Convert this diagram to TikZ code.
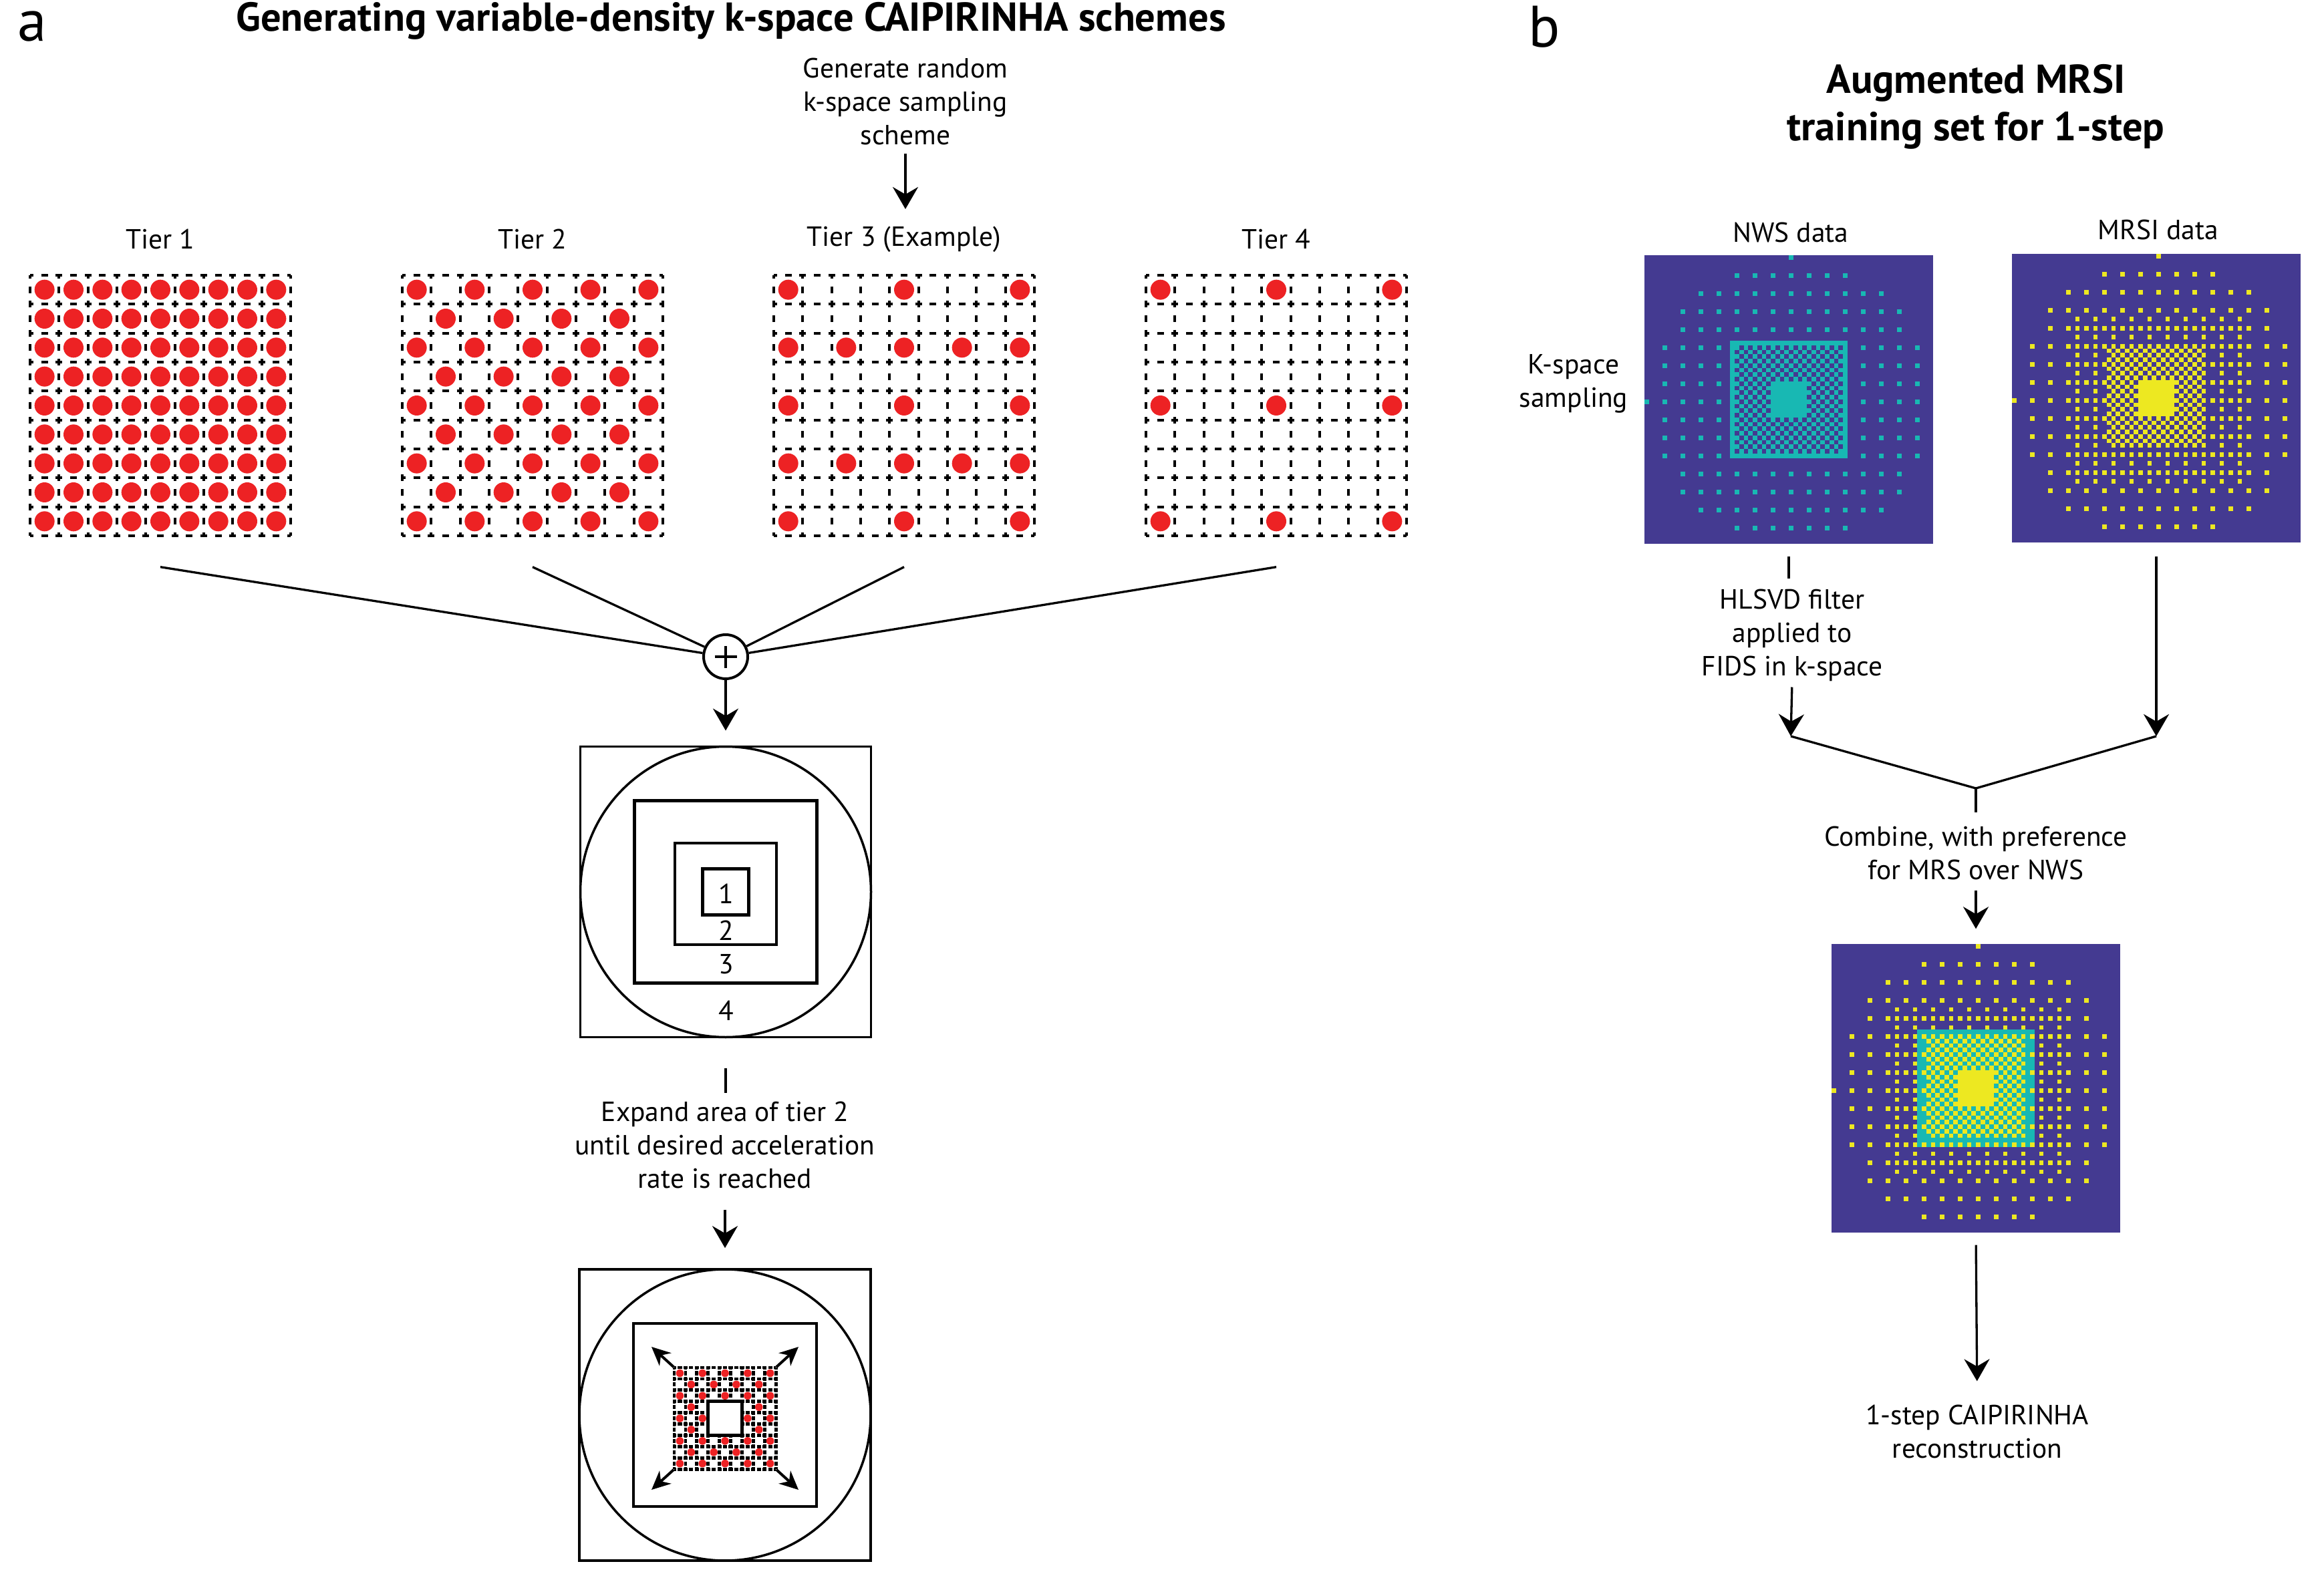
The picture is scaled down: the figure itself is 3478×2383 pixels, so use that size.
\documentclass[tikz,border=0pt]{standalone}
\usepackage{fontspec}
\setmainfont{PT Sans}
\usetikzlibrary{arrows.meta}
\definecolor{dotred}{RGB}{237,34,36}
\definecolor{bgpurple}{RGB}{68,58,145}
\definecolor{kteal}{RGB}{24,184,179}
\definecolor{kyellow}{RGB}{237,232,33}

% tier grid: gx gy cell style
\newcommand\tiergrid[4]{%
  \foreach \k in {0,...,9}{%
    \draw[#4] ({#1},{#2+\k*#3}) -- ({#1+9*#3},{#2+\k*#3});
    \draw[#4] ({#1+\k*#3},{#2}) -- ({#1+\k*#3},{#2+9*#3});
  }}
% dot: gx gy cell row col radius
\newcommand\tdot[6]{\fill[dotred] ({#1+(#5+0.5)*#3},{#2+(#4+0.5)*#3}) circle[radius=#6];}
% k-space pixel: color ox oy row col
\newcommand\kpx[5]{\fill[#1] ({#2+#5*6.75},{#3+#4*6.75}) rectangle +(6.75,6.75);}
\newcommand\klattice[3]{%
  \foreach \ii in {4,8,...,60}{\foreach \jj in {4,8,...,60}{%
    \ifnum\numexpr(\ii-32)*(\ii-32)+(\jj-32)*(\jj-32)\relax<1001\relax
      \kpx{#1}{#2}{#3}{\ii}{\jj}%
    \fi}}%
  \kpx{#1}{#2}{#3}{0}{32}\kpx{#1}{#2}{#3}{32}{0}}
\newcommand\ktierthree[3]{%
  \foreach \ii in {14,16,...,50}{\foreach \jj in {14,16,...,50}{%
    \ifodd\numexpr\ii/2\relax
      \ifodd\numexpr\jj/2\relax \kpx{#1}{#2}{#3}{\ii}{\jj}\fi
    \else \kpx{#1}{#2}{#3}{\ii}{\jj}\fi}}}
\newcommand\kchecker[6]{%
  \foreach \ii in {#4,...,#5}{\foreach \jj in {#4,...,#5}{%
    \ifodd\numexpr\ii+\jj+#6\relax\else\kpx{#1}{#2}{#3}{\ii}{\jj}\fi}}}
\newcommand\kblock[5]{\fill[#1] ({#2+#4*6.75},{#3+#4*6.75}) rectangle ({#2+(#5+1)*6.75},{#3+(#5+1)*6.75});}

\begin{document}
\begin{tikzpicture}[x=0.1mm,y=-0.1mm,
  lab/.style={font=\fontsize{11.8pt}{14.2pt}\selectfont, align=center, inner sep=0pt},
  ttl/.style={font=\fontsize{17.2pt}{20pt}\selectfont\bfseries, inner sep=0pt},
  ttlb/.style={font=\fontsize{17.2pt}{20.2pt}\selectfont\bfseries, align=center, inner sep=0pt},
  panel/.style={font=\fontsize{25pt}{30pt}\selectfont, inner sep=0pt},
  conn/.style={line width=0.33mm},
  arr/.style={line width=0.33mm, -{Stealth[length=3.3mm,width=3.8mm,inset=1.1mm]}},
  sarr/.style={line width=0.4mm, -{Stealth[length=2.8mm,width=2.6mm,inset=0.9mm]}},
  griddash/.style={line width=0.4mm, dash pattern=on 1mm off 1.1667mm, dash phase=0.5mm},
  griddashs/.style={line width=0.48mm, dash pattern=on 0.62mm off 0.225mm, dash phase=0.31mm},
  sq/.style={draw, line width=0.38mm, inner sep=0pt},
  ring/.style={draw, circle, line width=0.35mm, inner sep=0pt},
  imgbox/.style={inner sep=0pt, minimum size=43.2mm, fill=bgpurple}
]
\useasboundingbox (0,0) rectangle (3478,2383);

% ---------------- panel a ----------------
\node[panel] (pa) at (48,40) {a};
\node[ttl] (title) at (1094,31) {Generating variable-density k-space CAIPIRINHA schemes};
\node[lab] (gen) at (1355,152) {Generate random\\k-space sampling\\scheme};

\node[lab] (t1lab) at (240,358) {Tier 1};
\node[lab] (t2lab) at (797,358) {Tier 2};
\node[lab] (t3lab) at (1353,358) {Tier 3 (Example)};
\node[lab] (t4lab) at (1910,358) {Tier 4};
\draw[arr, shorten <=1.2mm, shorten >=2.5mm] (gen.south) -- (gen.south |- t3lab.north);

% grids
\node[inner sep=0, minimum size=39mm] (g1) at (240,607) {};
\node[inner sep=0, minimum size=39mm] (g2) at (797,607) {};
\node[inner sep=0, minimum size=39mm] (g3) at (1353,607) {};
\node[inner sep=0, minimum size=39mm] (g4) at (1910,607) {};

\tiergrid{45}{412}{43.333}{griddash}
\tiergrid{602}{412}{43.333}{griddash}
\tiergrid{1158}{412}{43.333}{griddash}
\tiergrid{1715}{412}{43.333}{griddash}

\foreach \i in {0,...,8}{\foreach \j in {0,...,8}{\tdot{45}{412}{43.333}{\i}{\j}{1.5mm}}}
\foreach \i in {0,...,8}{\foreach \j in {0,...,8}{%
  \ifodd\numexpr\i+\j\relax\else\tdot{602}{412}{43.333}{\i}{\j}{1.5mm}\fi}}
\foreach \i/\j in {0/0,0/4,0/8,2/0,2/2,2/4,2/6,2/8,4/0,4/4,4/8,6/0,6/2,6/4,6/6,6/8,8/0,8/4,8/8}
  {\tdot{1158}{412}{43.333}{\i}{\j}{1.5mm}}
\foreach \i in {0,4,8}{\foreach \j in {0,4,8}{\tdot{1715}{412}{43.333}{\i}{\j}{1.5mm}}}

% sum node
\node[circle, draw, line width=0.4mm, minimum size=6.6mm, inner sep=0pt] (plus) at (1086,983) {};
\draw[line width=0.4mm] ([xshift=-1.65mm]plus.center) -- ([xshift=1.65mm]plus.center);
\draw[line width=0.4mm] ([yshift=-1.65mm]plus.center) -- ([yshift=1.65mm]plus.center);

\coordinate (g1b) at ([yshift=-4.6mm]g1.south);
\coordinate (g2b) at ([yshift=-4.6mm]g2.south);
\coordinate (g3b) at ([yshift=-4.6mm]g3.south);
\coordinate (g4b) at ([yshift=-4.6mm]g4.south);
\draw[conn] (g1b) -- (plus);
\draw[conn] (g2b) -- (plus);
\draw[conn] (g3b) -- (plus);
\draw[conn] (g4b) -- (plus);

% box 1
\node[sq, minimum size=43.5mm] (b1) at (1086,1335) {};
\node[ring, minimum size=43.5mm] (b1c) at (b1.center) {};
\node[sq, line width=0.45mm, minimum size=27.3mm] (b1s3) at (b1.center) {};
\node[sq, line width=0.45mm, minimum size=15.2mm] (b1s2) at (1086,1338) {};
\node[sq, line width=0.45mm, minimum size=6.9mm] (b1s1) at (1086,1335) {};
\node[lab] (n1) at (1087,1338) {1};
\node[lab] (n2) at (1087,1393) {2};
\node[lab] (n3) at (1087,1443) {3};
\node[lab] (n4) at (1087,1513) {4};
\draw[arr, shorten >=2.2mm] (plus) -- (b1);

\node[lab] (expand) at (1085,1714) {Expand area of tier 2\\until desired acceleration\\rate is reached};
\draw[conn, shorten <=4.5mm, shorten >=1.2mm] (b1.south) -- (b1.south |- expand.north);

% box 2
\node[sq, minimum size=43.6mm] (b2) at (1085,2118) {};
\node[ring, minimum size=43.6mm] (b2c) at (b2.center) {};
\node[sq, line width=0.45mm, minimum size=27.4mm] (b2s3) at (b2.center) {};
\draw[arr, shorten <=3.1mm, shorten >=3mm] (expand.south) -- (expand.south |- b2.north);

\node[inner sep=0, minimum size=15.21mm] (chk) at (1085.05,2123.05) {};
\tiergrid{1009}{2047}{16.9}{griddashs}
\foreach \i in {0,...,8}{\foreach \j in {0,...,8}{%
  \ifodd\numexpr\i+\j\relax\else\tdot{1009}{2047}{16.9}{\i}{\j}{0.58mm}\fi}}
\node[sq, fill=white, line width=0.47mm, minimum size=5.07mm] (b2s1) at (chk.center) {};
\coordinate (aNW) at (975,2016);
\coordinate (aNE) at (1195,2016);
\coordinate (aSW) at (975,2230);
\coordinate (aSE) at (1195,2230);
\draw[sarr] (chk.north west) -- (aNW);
\draw[sarr] (chk.north east) -- (aNE);
\draw[sarr] (chk.south west) -- (aSW);
\draw[sarr] (chk.south east) -- (aSE);

% ---------------- panel b ----------------
\node[panel] (pb) at (2311,40) {b};
\node[ttlb] (titleb) at (2957,160) {Augmented MRSI\\training set for 1-step};
\node[lab] (nwslab) at (2680,348) {NWS data};
\node[lab] (mrsilab) at (3230,344) {MRSI data};
\node[lab] (kspace) at (2355,574) {K-space\\sampling};

% NWS image
\node[imgbox] (nws) at (2677,598) {};
\klattice{kteal}{2461}{382}
\kblock{kteal}{2461}{382}{19}{44}
\kchecker{bgpurple}{2461}{382}{20}{43}{1}
\kblock{kteal}{2461}{382}{28}{35}

% MRSI image
\node[imgbox] (mrsi) at (3227,596) {};
\klattice{kyellow}{3011}{380}
\ktierthree{kyellow}{3011}{380}
\kchecker{kyellow}{3011}{380}{21}{42}{0}
\kblock{kyellow}{3011}{380}{28}{35}

% combined image
\node[imgbox] (comb) at (2957,1629) {};
\klattice{kyellow}{2741}{1413}
\kblock{kteal}{2741}{1413}{19}{44}
\ktierthree{kyellow}{2741}{1413}
\kchecker{kyellow}{2741}{1413}{21}{42}{0}
\kblock{kyellow}{2741}{1413}{28}{35}

\node[lab] (hlsvd) at (2682,951) {HLSVD filter\\applied to\\FIDS in k-space};
\node[lab] (combine) at (2957,1277) {Combine, with preference\\for MRS over NWS};
\node[lab] (recon) at (2959,2143) {1-step CAIPIRINHA\\reconstruction};

\coordinate (jn) at (2680,1102);
\coordinate (jm) at (3227,1102);
\coordinate (jc) at (2957,1180);

\draw[conn, shorten <=1.8mm, shorten >=1.5mm] (nws.south) -- (nws.south |- hlsvd.north);
\draw[arr, shorten <=0.8mm] (hlsvd.south) -- (jn);
\draw[arr, shorten <=2mm] (mrsi.south) -- (jm);
\draw[conn] (jn) -- (jc) -- (jm);
\draw[conn, shorten >=2mm] (jc) -- (combine.north);
\draw[arr, shorten <=1.5mm, shorten >=2.2mm] (combine.south) -- (comb.north);
\draw[arr, shorten <=1.8mm, shorten >=3.5mm] (comb.south) -- (recon.north);

\end{tikzpicture}
\end{document}
